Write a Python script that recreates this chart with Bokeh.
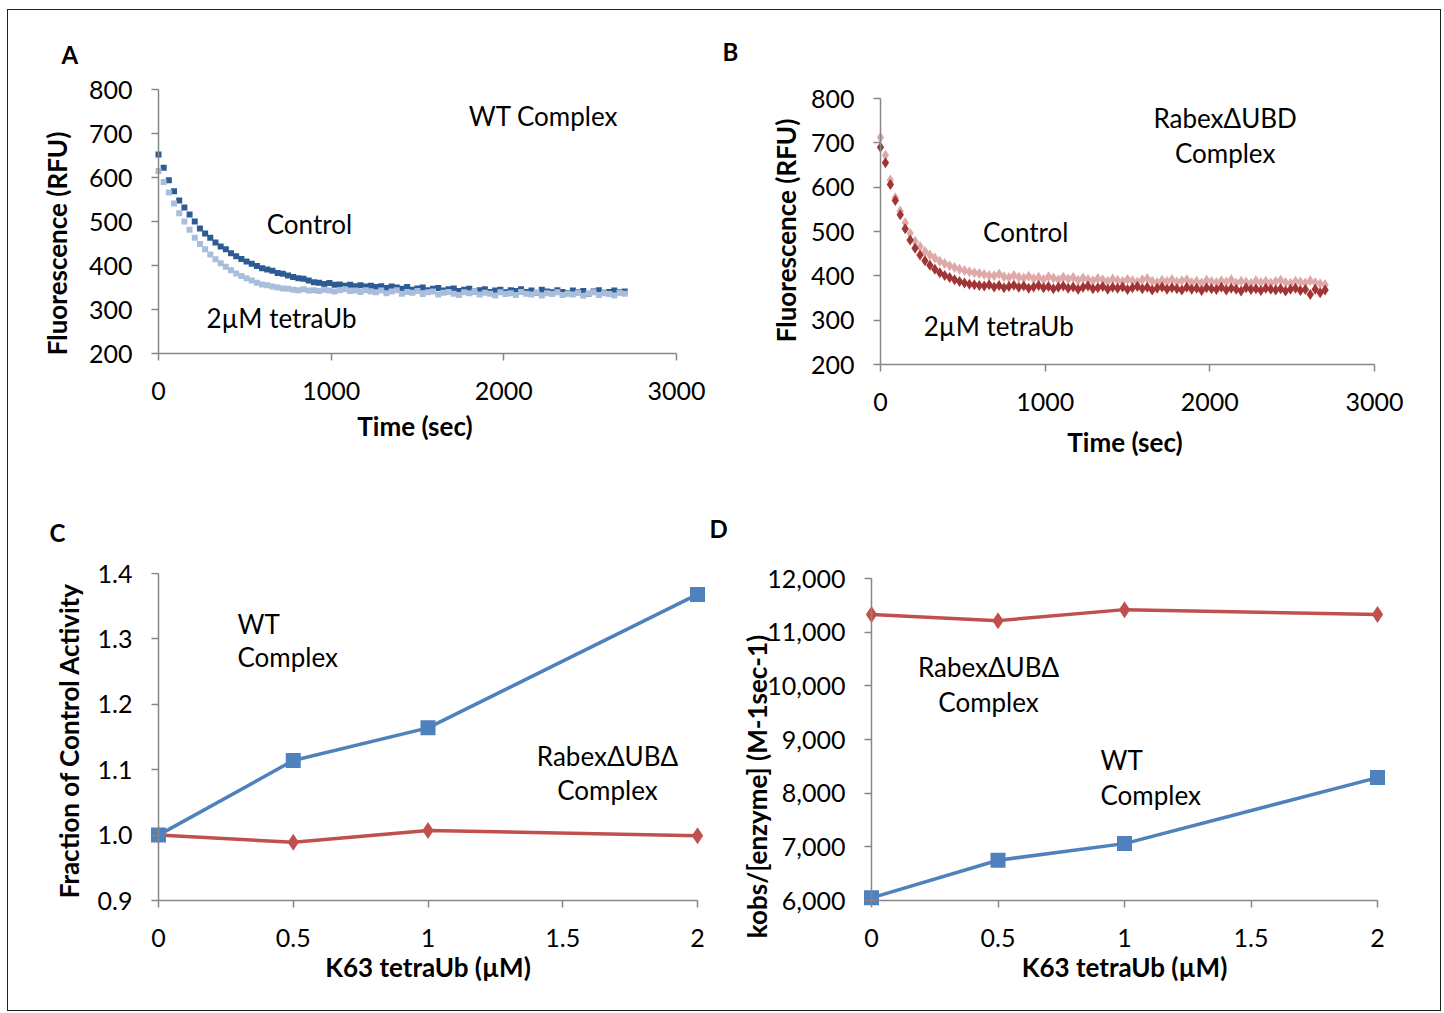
from bokeh.plotting import figure
from bokeh.models import (Label, FixedTicker, NumeralTickFormatter, Range1d,
                          Title, LinearAxis, BasicTickFormatter)
from bokeh.layouts import row, column
from bokeh.embed import file_html
from bokeh.resources import INLINE

# ---------------- data ----------------
# Panel A (WT complex), sampled every 30 s
time_A = list(range(0, 2701, 30))
wt_control = [652, 622, 594, 569, 548, 532, 516, 500, 484, 473,
              463, 452, 443, 437, 428, 421, 415, 409, 404, 399,
              394, 391, 388, 383, 381, 377, 374, 371, 370, 366,
              362, 361, 358, 360, 356, 357, 354, 356, 353, 355,
              352, 354, 351, 353, 349, 352, 350, 347, 351, 345,
              348, 350, 344, 347, 349, 343, 346, 348, 342, 345,
              347, 341, 344, 346, 340, 343, 345, 339, 344, 342,
              346, 340, 343, 338, 345, 341, 339, 344, 340, 337,
              343, 339, 342, 336, 341, 344, 338, 340, 343, 339,
              341]
wt_tetraub = [615, 590, 566, 541, 519, 500, 481, 463, 449, 437,
              425, 414, 405, 397, 389, 382, 376, 371, 366, 361,
              357, 355, 352, 350, 348, 347, 345, 344, 346, 343,
              344, 342, 345, 343, 341, 344, 346, 342, 343, 340,
              344, 341, 339, 343, 337, 341, 344, 336, 340, 338,
              342, 335, 339, 341, 334, 338, 340, 336, 333, 339,
              337, 341, 334, 338, 336, 332, 339, 335, 337, 333,
              340, 336, 334, 338, 332, 337, 335, 339, 333, 336,
              334, 338, 331, 336, 339, 333, 337, 335, 332, 338,
              336]

# Panel B (Rabex-dUBD complex)
time_B = list(range(0, 2701, 30))
ubd_control = [712, 672, 616, 576, 546, 520, 496, 478, 466, 455,
               447, 440, 433, 428, 423, 419, 415, 412, 409, 407,
               405, 403, 401, 400, 404, 398, 396, 401, 397, 395,
               399, 394, 397, 392, 398, 395, 391, 397, 393, 396,
               390, 395, 392, 389, 394, 391, 388, 393, 390, 387,
               392, 389, 386, 391, 394, 388, 385, 390, 387, 392,
               386, 389, 391, 385, 388, 384, 390, 387, 385, 389,
               386, 391, 384, 388, 386, 383, 389, 385, 388, 384,
               387, 390, 385, 383, 388, 386, 384, 389, 385, 382,
               380]
ubd_tetraub = [690, 655, 606, 570, 538, 506, 481, 462, 447, 434,
               424, 415, 407, 401, 396, 391, 387, 384, 381, 380,
               378, 377, 380, 375, 378, 373, 376, 379, 374, 377,
               372, 375, 378, 373, 376, 371, 374, 377, 372, 375,
               370, 374, 377, 371, 373, 376, 370, 374, 372, 375,
               369, 373, 376, 371, 374, 368, 372, 375, 370, 373,
               371, 368, 374, 370, 372, 367, 373, 371, 369, 374,
               368, 372, 370, 366, 373, 369, 371, 367, 372, 370,
               368, 371, 366, 370, 372, 367, 369, 358, 370, 362,
               368]

# Panels C and D
tetraub_conc = [0, 0.5, 1, 2]
frac_wt = [1.0, 1.114, 1.164, 1.368]
frac_ubd = [1.0, 0.989, 1.007, 0.999]
kobs_wt = [6050, 6750, 7060, 8290]
kobs_ubd = [11330, 11215, 11420, 11330]

ticks_time = [0, 1000, 2000, 3000]
ticks_rfu = [200, 300, 400, 500, 600, 700, 800]
ticks_conc = [0, 0.5, 1, 1.5, 2]
ticks_frac = [0.9, 1.0, 1.1, 1.2, 1.3, 1.4]
ticks_kobs = [6000, 7000, 8000, 9000, 10000, 11000, 12000]

# ---------------- styling ----------------
FONT = "Lato"
GREY = "#868686"
TICK_FS = "25px"
TEXT_FS = "26px"


def make_fig(origin, size, frame, axis_px, xr, yr, xticks, yticks,
             xfmt, yfmt):
    """origin/size: figure box on page; frame: (l, t, r, b) page px of the
    plotting frame; axis_px: (l, t, r, b) page px where the axes' ends lie."""
    ox, oy = origin
    w, h = size
    fl, ft, fr, fb = frame
    al, at, ar, ab = axis_px
    x0, x1 = xr
    y0, y1 = yr
    sx = (ar - al) / (x1 - x0)
    sy = (ab - at) / (y1 - y0)
    xmin = x0 - (al - fl) / sx
    xmax = x1 + (fr - ar) / sx
    ymax = y1 + (at - ft) / sy
    ymin = y0 - (fb - ab) / sy
    p = figure(frame_width=fr - fl, frame_height=fb - ft,
               min_border_left=fl - ox, min_border_right=ox + w - fr,
               min_border_top=ft - oy, min_border_bottom=oy + h - fb,
               x_range=Range1d(xmin, xmax), y_range=Range1d(ymin, ymax),
               output_backend="svg", toolbar_location=None, tools="")
    p.outline_line_color = None
    p.grid.visible = False
    p.background_fill_color = "white"
    p.border_fill_color = "white"
    # label-only axes at the frame edges
    xa, ya = p.xaxis[0], p.yaxis[0]
    xa.ticker = FixedTicker(ticks=xticks)
    ya.ticker = FixedTicker(ticks=yticks)
    xa.formatter = xfmt
    ya.formatter = yfmt
    for ax in (xa, ya):
        ax.axis_line_color = None
        ax.major_tick_line_color = None
        ax.major_tick_out = 0
        ax.major_tick_in = 0
        ax.minor_tick_line_color = None
        ax.minor_tick_out = 0
        ax.minor_tick_in = 0
        ax.major_label_text_font = FONT
        ax.major_label_text_font_size = TICK_FS
        ax.major_label_text_color = "black"
        ax.axis_label_text_font = FONT
        ax.axis_label_text_font_style = "bold"
        ax.axis_label_text_font_size = TEXT_FS
        ax.axis_label_text_color = "black"
    ya.major_label_standoff = 26 - (al - fl)
    xa.major_label_standoff = 28 - (fb - ab)
    # line + tick axes placed exactly at the data origin
    yfix = LinearAxis(fixed_location=x0, bounds=(y0, y1),
                      ticker=FixedTicker(ticks=yticks))
    xfix = LinearAxis(fixed_location=y0, bounds=(x0, x1),
                      ticker=FixedTicker(ticks=xticks))
    for ax in (yfix, xfix):
        ax.axis_line_color = GREY
        ax.axis_line_width = 1.5
        ax.major_tick_line_color = GREY
        ax.major_tick_line_width = 1.5
        ax.major_tick_out = 7
        ax.major_tick_in = 0
        ax.minor_tick_line_color = None
        ax.minor_tick_out = 0
        ax.major_label_text_font_size = "0px"
        ax.major_label_standoff = 0
        ax.major_label_text_color = None
    p.add_layout(yfix, "left")
    p.add_layout(xfix, "below")
    return p


def letter(p, s, offset, standoff):
    p.title = Title(text=s, align="left", offset=offset, standoff=standoff,
                    text_font=FONT, text_font_size="24px",
                    text_font_style="bold", text_color="black")


def txt(p, x, y, s, align="center"):
    p.add_layout(Label(x=x, y=y, text=s, text_align=align,
                       text_baseline="middle", text_font=FONT,
                       text_font_size=TEXT_FS, text_color="black"))


LW = 3.5

# ---------------- Panel A ----------------
pA = make_fig((8, 10), (704, 470), (149, 86, 680, 400),
              (158, 89, 676, 353), (0, 3000), (200, 800),
              ticks_time, ticks_rfu, BasicTickFormatter(), BasicTickFormatter())
pA.xaxis[0].axis_label = "Time (sec)"
pA.yaxis[0].axis_label = "Fluorescence (RFU)"
pA.xaxis[0].axis_label_standoff = 7
pA.yaxis[0].axis_label_standoff = 13
pA.scatter(time_A, wt_control, marker="square", size=6,
           color="#2D5C94", line_color=None)
pA.scatter(time_A, wt_tetraub, marker="square", size=6,
           color="#A9BEDD", line_color=None)
txt(pA, 2230, 739, "WT Complex")
txt(pA, 874, 495, "Control")
txt(pA, 712, 280, "2µM tetraUb")
letter(pA, "A", -88, 35)

# ---------------- Panel B ----------------
pB = make_fig((712, 10), (728, 470), (871, 86, 1378, 374),
              (880, 98, 1374, 364), (0, 3000), (200, 800),
              ticks_time, ticks_rfu, BasicTickFormatter(), BasicTickFormatter())
pB.xaxis[0].axis_label = "Time (sec)"
pB.yaxis[0].axis_label = "Fluorescence (RFU)"
pB.xaxis[0].axis_label_standoff = 12
pB.yaxis[0].axis_label_standoff = 6
pB.scatter(time_B, ubd_control, marker="diamond", size=11,
           color="#DFA9A7", line_color=None)
pB.scatter(time_B, ubd_tetraub, marker="diamond", size=11,
           color="#A13535", line_color=None)
txt(pB, 2093, 757, "Rabex\u0394UBD")
txt(pB, 2093, 678, "Complex")
txt(pB, 882, 498, "Control")
txt(pB, 718, 286, "2µM tetraUb")
letter(pB, "B", -149, 41)

# ---------------- Panel C ----------------
pC = make_fig((8, 480), (700, 530), (148, 572, 707, 908),
              (158, 573, 697, 900), (0, 2), (0.9, 1.4),
              ticks_conc, ticks_frac,
              NumeralTickFormatter(format="0.[0]"),
              NumeralTickFormatter(format="0.0"))
pC.xaxis[0].axis_label = "K63 tetraUb (µM)"
pC.yaxis[0].axis_label = "Fraction of Control Activity"
pC.xaxis[0].axis_label_standoff = 1
pC.yaxis[0].axis_label_standoff = 10
pC.line(tetraub_conc, frac_ubd, line_color="#C0504D", line_width=LW)
pC.scatter(tetraub_conc, frac_ubd, marker="diamond", size=17,
           color="#C0504D", line_color=None)
pC.line(tetraub_conc, frac_wt, line_color="#4F81BD", line_width=LW)
pC.scatter(tetraub_conc, frac_wt, marker="square", size=15,
           color="#4F81BD", line_color=None)
txt(pC, 0.293, 1.3235, "WT", align="left")
txt(pC, 0.293, 1.2716, "Complex", align="left")
txt(pC, 1.666, 1.1217, "Rabex\u0394UB\u0394")
txt(pC, 1.666, 1.0682, "Complex")
letter(pC, "C", -99, 51)

# ---------------- Panel D ----------------
pD = make_fig((708, 480), (732, 530), (861, 572, 1387, 1000),
              (871, 578, 1377, 900), (0, 2), (6000, 12000),
              ticks_conc, ticks_kobs,
              NumeralTickFormatter(format="0.[0]"),
              NumeralTickFormatter(format="0,0"))
pD.xaxis[0].axis_label = "K63 tetraUb (µM)"
pD.yaxis[0].axis_label = "kobs/[enzyme] (M-1sec-1)"
pD.xaxis[0].axis_label_standoff = 1
pD.yaxis[0].axis_label_standoff = -9
pD.line(tetraub_conc, kobs_ubd, line_color="#C0504D", line_width=LW)
pD.scatter(tetraub_conc, kobs_ubd, marker="diamond", size=17,
           color="#C0504D", line_color=None)
pD.line(tetraub_conc, kobs_wt, line_color="#4F81BD", line_width=LW)
pD.scatter(tetraub_conc, kobs_wt, marker="square", size=15,
           color="#4F81BD", line_color=None)
txt(pD, 0.4625, 10360, "Rabex\u0394UB\u0394")
txt(pD, 0.4625, 9708, "Complex")
txt(pD, 0.905, 8609, "WT", align="left")
txt(pD, 0.905, 7957, "Complex", align="left")
letter(pD, "D", -152, 60)

layout = column(row(pA, pB), row(pC, pD),
                styles={"border": "1px solid #222222",
                        "margin": "9px 0px 0px 7px"})

open("out.html", "w").write(file_html(layout, INLINE))
